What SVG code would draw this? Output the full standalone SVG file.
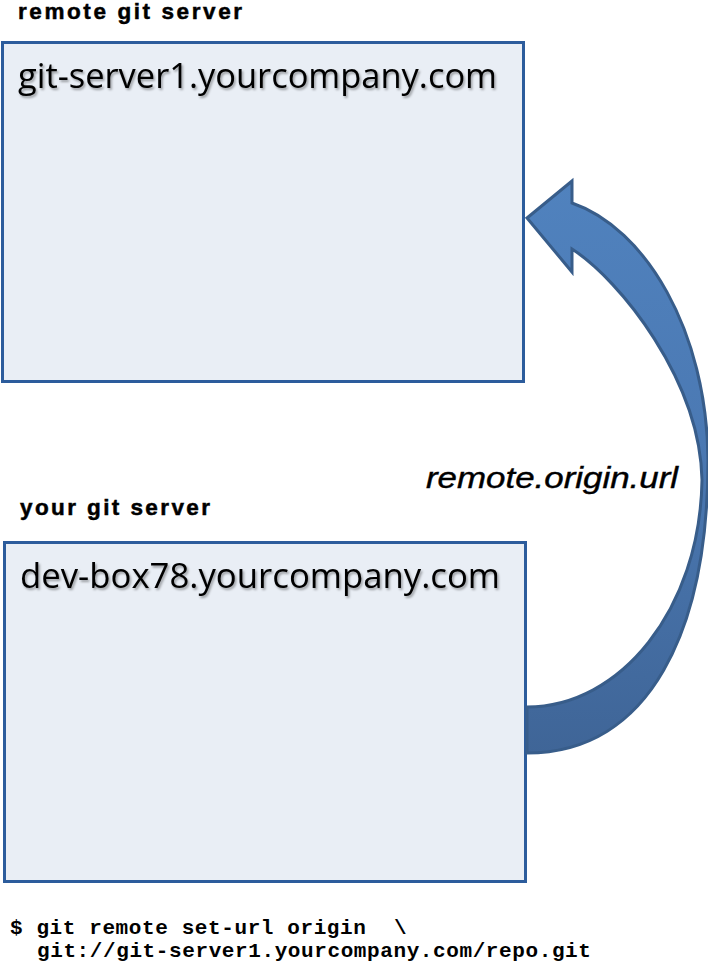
<svg xmlns="http://www.w3.org/2000/svg" width="708" height="968" viewBox="0 0 708 968">
<style>
.box{fill:#e9eef5;stroke:#2c5c9c;stroke-width:3}
.lbl{font-family:"Liberation Sans",Arial,sans-serif;font-weight:bold;font-size:22.5px;fill:#000;stroke:#000;stroke-width:0.5}
.host{font-family:"Open Sans","Noto Sans",sans-serif;font-size:35px;fill:#000;filter:url(#sh)}
.edge{font-family:"Liberation Sans",Arial,sans-serif;font-style:italic;font-size:29px;fill:#000;stroke:#000;stroke-width:0.4}
.code{font-family:"Liberation Mono","DejaVu Sans Mono",monospace;font-weight:bold;font-size:21px;letter-spacing:0.6px;fill:#000}
</style>
<defs>
<filter id="sh" x="-5%" y="-20%" width="110%" height="150%">
<feDropShadow dx="1.5" dy="2" stdDeviation="1.2" flood-color="#000" flood-opacity="0.35"/>
</filter>
<linearGradient id="ag" gradientUnits="userSpaceOnUse" x1="0" y1="181" x2="0" y2="755">
<stop offset="0" stop-color="#5082be"/>
<stop offset="0.45" stop-color="#4b79b3"/>
<stop offset="1" stop-color="#3f6597"/>
</linearGradient>
</defs>
<g id="remote">
<text class="lbl" x="18" y="18.5" textLength="224" lengthAdjust="spacing">remote git server</text>
<rect class="box" x="2.5" y="42.5" width="521" height="339"/>
<text class="host" x="18" y="88" textLength="479" lengthAdjust="spacingAndGlyphs">git-server1.yourcompany.com</text>
</g>
<g id="local">
<text class="lbl" x="20" y="515" textLength="190" lengthAdjust="spacing">your git server</text>
<rect class="box" x="4.5" y="542.5" width="521" height="339"/>
<text class="host" x="20" y="588" textLength="480" lengthAdjust="spacingAndGlyphs">dev-box78.yourcompany.com</text>
</g>
<g id="connectors">
<path d="M527,218 L572,181 L572,203 C645,228 707,330 708,460 C708,630 650,753 527,753 L527,707 C620,707 700,610 702,480 C700,380 620,280 572,249 L572,272 Z" fill="url(#ag)" stroke="#385d8a" stroke-width="3" stroke-linejoin="miter"/>
<text class="edge" x="426" y="488" textLength="252" lengthAdjust="spacingAndGlyphs">remote.origin.url</text>
</g>
<g id="command">
<text class="code" x="10" y="934">$ git remote set-url origin <tspan x="394">\</tspan></text>
<text class="code" x="37" y="957">git://git-server1.yourcompany.com/repo.git</text>
</g>
</svg>
